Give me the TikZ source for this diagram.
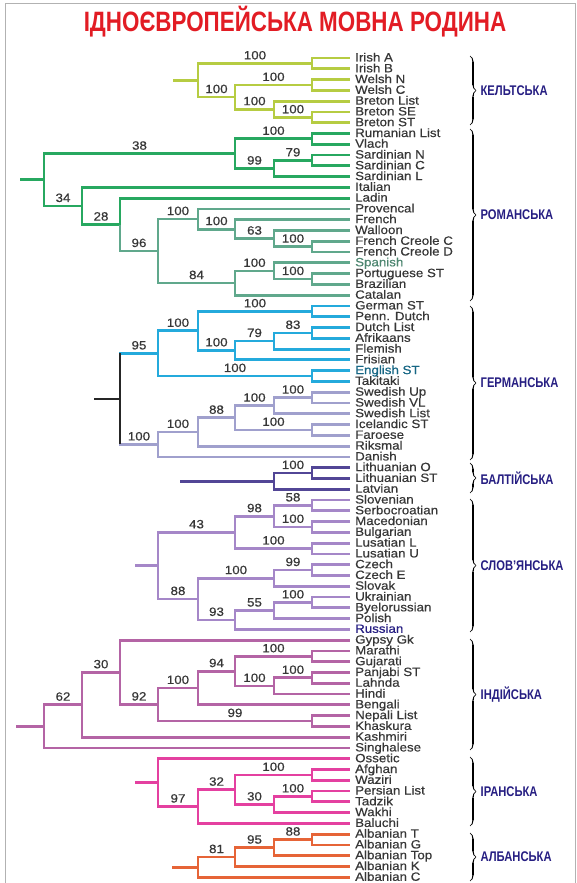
\documentclass[tikz,border=0pt]{standalone}
\usepackage{fontspec}
\setmainfont{Liberation Sans}
\newfontfamily\leaffont{Liberation Sans}[FakeStretch=1.11,FakeBold=0.6]
\newfontfamily\headfont{Liberation Sans}[FakeStretch=0.8]
\usetikzlibrary{calc,decorations.pathreplacing,calligraphy}

\definecolor{celtcol}{RGB}{182,204,66}
\definecolor{romcol}{RGB}{39,168,96}
\definecolor{romlowcol}{RGB}{96,168,140}
\definecolor{gercol}{RGB}{36,170,220}
\definecolor{scandcol}{RGB}{160,160,205}
\definecolor{baltcol}{RGB}{82,70,150}
\definecolor{slavcol}{RGB}{165,135,200}
\definecolor{indcol}{RGB}{180,100,165}
\definecolor{irancol}{RGB}{228,64,160}
\definecolor{albcol}{RGB}{230,100,55}
\definecolor{grpnavy}{RGB}{38,30,130}
\definecolor{headred}{RGB}{226,28,36}
\definecolor{leafgray}{RGB}{55,55,55}

\tikzset{
branch/.style={line width=2.8pt},
celtic/.style={branch, draw=celtcol},
romance/.style={branch, draw=romcol},
romlow/.style={branch, draw=romlowcol},
germanic/.style={branch, draw=gercol},
scandic/.style={branch, draw=scandcol},
gerroot/.style={branch, draw=black!85},
baltic/.style={branch, draw=baltcol},
slavic/.style={branch, draw=slavcol},
indic/.style={branch, draw=indcol},
iranic/.style={branch, draw=irancol},
albanic/.style={branch, draw=albcol},
leaf/.style={anchor=west, inner xsep=5pt, inner ysep=0pt, text height=7pt, text depth=0pt,
  text=leafgray, font=\leaffont\fontsize{12}{12}\selectfont},
support/.style={pos=0.75, above=2.5pt, inner sep=0pt, text=leafgray,
  font=\leaffont\fontsize{12}{12}\selectfont},
grpbrace/.style={decorate, decoration={calligraphic brace, amplitude=6pt}, line width=1.3pt, draw=black},
grplabel/.style={midway, anchor=west, xshift=10pt, inner sep=0pt, text=grpnavy,
  font=\headfont\bfseries\fontsize{14}{14}\selectfont},
headline/.style={text=headred, font=\headfont\bfseries\fontsize{28}{28}\selectfont},
}

\newcommand{\setjoint}[4]{\path let \p1=(#3), \p2=(#4) in (#2pt,{0.5*(\y1+\y2)}) coordinate (#1);}

\begin{document}
\begin{tikzpicture}[x=1pt,y=-1pt]
\useasboundingbox (0,0) rectangle (577,883);
\draw[black!30, line width=0.8pt] (5,883) -- (5,3) -- (575,3) -- (575,883);
\node[headline] (head) at (295,22) {ІДНОЄВРОПЕЙСЬКА МОВНА РОДИНА};

% celtic part
\node[leaf] (irA) at (350,58.0) {Irish A};
\node[leaf] (irB) at (350,68.8) {Irish B};
\node[leaf] (weN) at (350,79.6) {Welsh N};
\node[leaf] (weC) at (350,90.3) {Welsh C};
\node[leaf] (brL) at (350,101.1) {Breton List};
\node[leaf] (brSE) at (350,111.9) {Breton SE};
\node[leaf] (brST) at (350,122.7) {Breton ST};
\setjoint{irish}{312}{irA}{irB}
\setjoint{welsh}{312}{weN}{weC}
\setjoint{bret}{312}{brSE}{brST}
\setjoint{brit}{274}{brL}{bret}
\setjoint{brython}{235}{welsh}{brit}
\setjoint{celt}{198}{irish}{brython}
\coordinate (celtin) at ($(celt)+(-25,0)$);

% romance part
\node[leaf] (rum) at (350,133.5) {Rumanian List};
\node[leaf] (vla) at (350,144.2) {Vlach};
\node[leaf] (sarN) at (350,155.0) {Sardinian N};
\node[leaf] (sarC) at (350,165.8) {Sardinian C};
\node[leaf] (sarL) at (350,176.6) {Sardinian L};
\node[leaf] (ita) at (350,187.4) {Italian};
\node[leaf] (lad) at (350,198.1) {Ladin};
\node[leaf] (pro) at (350,208.9) {Provencal};
\node[leaf] (fre) at (350,219.7) {French};
\node[leaf] (wal) at (350,230.5) {Walloon};
\node[leaf] (fcC) at (350,241.3) {French Creole C};
\node[leaf] (fcD) at (350,252.0) {French Creole D};
\node[leaf, text=romlowcol!80!black] (spa) at (350,262.8) {Spanish};
\node[leaf] (por) at (350,273.6) {Portuguese ST};
\node[leaf] (bra) at (350,284.4) {Brazilian};
\node[leaf] (cat) at (350,295.2) {Catalan};
\setjoint{rumvla}{312}{rum}{vla}
\setjoint{sardnc}{312}{sarN}{sarC}
\setjoint{sard}{274}{sardnc}{sarL}
\setjoint{romeast}{235}{rumvla}{sard}
\setjoint{creole}{312}{fcC}{fcD}
\setjoint{wall}{274}{wal}{creole}
\setjoint{french}{235}{fre}{wall}
\setjoint{gallo}{198}{pro}{french}
\setjoint{portbr}{312}{por}{bra}
\setjoint{iber}{274}{spa}{portbr}
\setjoint{ibcat}{235}{iber}{cat}
\setjoint{romwest}{158}{gallo}{ibcat}
\setjoint{ladw}{120}{lad}{romwest}
\setjoint{italw}{82}{ita}{ladw}
\setjoint{roman}{44}{romeast}{italw}
\coordinate (romin) at ($(roman)+(-24,0)$);

% germanic part
\node[leaf] (gerST) at (350,305.9) {German ST};
\node[leaf] (penn) at (350,316.7) {Penn. Dutch};
\node[leaf] (dut) at (350,327.5) {Dutch List};
\node[leaf] (afr) at (350,338.3) {Afrikaans};
\node[leaf] (fle) at (350,349.1) {Flemish};
\node[leaf] (fri) at (350,359.8) {Frisian};
\node[leaf, text=gercol!60!black] (eng) at (350,370.6) {English ST};
\node[leaf] (tak) at (350,381.4) {Takitaki};
\node[leaf] (swUp) at (350,392.2) {Swedish Up};
\node[leaf] (swVL) at (350,403.0) {Swedish VL};
\node[leaf] (swL) at (350,413.7) {Swedish List};
\node[leaf] (ice) at (350,424.5) {Icelandic ST};
\node[leaf] (far) at (350,435.3) {Faroese};
\node[leaf] (rik) at (350,446.1) {Riksmal};
\node[leaf] (dan) at (350,456.9) {Danish};
\setjoint{gerpair}{312}{gerST}{penn}
\setjoint{dutafr}{312}{dut}{afr}
\setjoint{lowfr}{274}{dutafr}{fle}
\setjoint{frank}{235}{lowfr}{fri}
\setjoint{contw}{198}{gerpair}{frank}
\setjoint{engtak}{312}{eng}{tak}
\setjoint{westg}{158}{contw}{engtak}
\setjoint{swpair}{312}{swUp}{swVL}
\setjoint{swed}{274}{swpair}{swL}
\setjoint{icefar}{312}{ice}{far}
\setjoint{nordw}{235}{swed}{icefar}
\setjoint{nord}{198}{nordw}{rik}
\setjoint{scand}{158}{nord}{dan}
\setjoint{germ}{120}{westg}{scand}
\coordinate (germin) at ($(germ)+(-26,0)$);

% baltic part
\node[leaf] (lithO) at (350,467.6) {Lithuanian O};
\node[leaf] (lithST) at (350,478.4) {Lithuanian ST};
\node[leaf] (lat) at (350,489.2) {Latvian};
\setjoint{lith}{312}{lithO}{lithST}
\setjoint{balt}{274}{lith}{lat}
\coordinate (baltin) at ($(balt)+(-94,0)$);

% slavic part
\node[leaf] (slo) at (350,500.0) {Slovenian};
\node[leaf] (srb) at (350,510.8) {Serbocroatian};
\node[leaf] (mac) at (350,521.5) {Macedonian};
\node[leaf] (bul) at (350,532.3) {Bulgarian};
\node[leaf] (lusL) at (350,543.1) {Lusatian L};
\node[leaf] (lusU) at (350,553.9) {Lusatian U};
\node[leaf] (cze) at (350,564.7) {Czech};
\node[leaf] (czeE) at (350,575.4) {Czech E};
\node[leaf] (slk) at (350,586.2) {Slovak};
\node[leaf] (ukr) at (350,597.0) {Ukrainian};
\node[leaf] (bye) at (350,607.8) {Byelorussian};
\node[leaf] (pol) at (350,618.6) {Polish};
\node[leaf, text=grpnavy] (rus) at (350,629.3) {Russian};
\setjoint{slosrb}{312}{slo}{srb}
\setjoint{macbul}{312}{mac}{bul}
\setjoint{south}{274}{slosrb}{macbul}
\setjoint{lus}{312}{lusL}{lusU}
\setjoint{sowest}{235}{south}{lus}
\setjoint{czpair}{312}{cze}{czeE}
\setjoint{czsk}{274}{czpair}{slk}
\setjoint{ukrbye}{312}{ukr}{bye}
\setjoint{ukbyp}{274}{ukrbye}{pol}
\setjoint{eastsl}{235}{ukbyp}{rus}
\setjoint{wesl}{198}{czsk}{eastsl}
\setjoint{slav}{158}{sowest}{wesl}
\coordinate (slavin) at ($(slav)+(-23,0)$);

% indic part
\node[leaf] (gyp) at (350,640.1) {Gypsy Gk};
\node[leaf] (mar) at (350,650.9) {Marathi};
\node[leaf] (guj) at (350,661.7) {Gujarati};
\node[leaf] (pan) at (350,672.5) {Panjabi ST};
\node[leaf] (lah) at (350,683.2) {Lahnda};
\node[leaf] (hin) at (350,694.0) {Hindi};
\node[leaf] (ben) at (350,704.8) {Bengali};
\node[leaf] (nep) at (350,715.6) {Nepali List};
\node[leaf] (kha) at (350,726.4) {Khaskura};
\node[leaf] (kas) at (350,737.1) {Kashmiri};
\node[leaf] (sin) at (350,747.9) {Singhalese};
\setjoint{margu}{312}{mar}{guj}
\setjoint{panla}{312}{pan}{lah}
\setjoint{panhi}{274}{panla}{hin}
\setjoint{midind}{235}{margu}{panhi}
\setjoint{midben}{198}{midind}{ben}
\setjoint{nepkh}{312}{nep}{kha}
\setjoint{northi}{158}{midben}{nepkh}
\setjoint{gypind}{120}{gyp}{northi}
\setjoint{kasind}{82}{gypind}{kas}
\setjoint{indo}{44}{kasind}{sin}
\coordinate (indoin) at ($(indo)+(-28,0)$);

% iranian part
\node[leaf] (oss) at (350,758.7) {Ossetic};
\node[leaf] (afg) at (350,769.5) {Afghan};
\node[leaf] (waz) at (350,780.3) {Waziri};
\node[leaf] (per) at (350,791.0) {Persian List};
\node[leaf] (tad) at (350,801.8) {Tadzik};
\node[leaf] (wak) at (350,812.6) {Wakhi};
\node[leaf] (bal) at (350,823.4) {Baluchi};
\setjoint{afwaz}{312}{afg}{waz}
\setjoint{pertad}{312}{per}{tad}
\setjoint{perwak}{274}{pertad}{wak}
\setjoint{iracore}{235}{afwaz}{perwak}
\setjoint{irabal}{198}{iracore}{bal}
\setjoint{iran}{158}{oss}{irabal}
\coordinate (iranin) at ($(iran)+(-23,0)$);

% albanian part
\node[leaf] (albT) at (350,834.2) {Albanian T};
\node[leaf] (albG) at (350,844.9) {Albanian G};
\node[leaf] (albTop) at (350,855.7) {Albanian Top};
\node[leaf] (albK) at (350,866.5) {Albanian K};
\node[leaf] (albC) at (350,877.3) {Albanian C};
\setjoint{albtg}{312}{albT}{albG}
\setjoint{albtop}{274}{albtg}{albTop}
\setjoint{albk}{235}{albtop}{albK}
\setjoint{alban}{198}{albk}{albC}
\coordinate (albanin) at ($(alban)+(-26,0)$);

% celtic edges
\draw[celtic] (celtin) -- (celt);
\draw[celtic] (celt) |- node[support] {100} (irish) (celt) |- node[support] {100} (brython);
\draw[celtic] (irish) |- (irA.west) (irish) |- (irB.west);
\draw[celtic] (brython) |- node[support] {100} (welsh) (brython) |- node[support] {100} (brit);
\draw[celtic] (welsh) |- (weN.west) (welsh) |- (weC.west);
\draw[celtic] (brit) |- (brL.west) (brit) |- node[support] {100} (bret);
\draw[celtic] (bret) |- (brSE.west) (bret) |- (brST.west);

% romance edges
\draw[romance] (romin) -- (roman);
\draw[romance] (roman) |- node[support] {38} (romeast) (roman) |- node[support] {34} (italw);
\draw[romance] (romeast) |- node[support] {100} (rumvla) (romeast) |- node[support] {99} (sard);
\draw[romance] (rumvla) |- (rum.west) (rumvla) |- (vla.west);
\draw[romance] (sard) |- node[support] {79} (sardnc) (sard) |- (sarL.west);
\draw[romance] (sardnc) |- (sarN.west) (sardnc) |- (sarC.west);
\draw[romance] (italw) |- (ita.west) (italw) |- node[support] {28} (ladw);
\draw[romance] (ladw) |- (lad.west);
\draw[romlow] (ladw) |- node[support] {96} (romwest);
\draw[romlow] (romwest) |- node[support] {100} (gallo) (romwest) |- node[support] {84} (ibcat);
\draw[romlow] (gallo) |- (pro.west) (gallo) |- node[support] {100} (french);
\draw[romlow] (french) |- (fre.west) (french) |- node[support] {63} (wall);
\draw[romlow] (wall) |- (wal.west) (wall) |- node[support] {100} (creole);
\draw[romlow] (creole) |- (fcC.west) (creole) |- (fcD.west);
\draw[romlow] (ibcat) |- node[support] {100} (iber) (ibcat) |- (cat.west);
\draw[romlow] (iber) |- (spa.west) (iber) |- node[support] {100} (portbr);
\draw[romlow] (portbr) |- (por.west) (portbr) |- (bra.west);

% germanic edges
\draw[germanic] (germ) |- node[support] {95} (westg);
\draw[scandic] (germ) |- node[support] {100} (scand);
\draw[gerroot] (germin) -- (germ) (germ |- westg) -- (germ |- scand);
\draw[germanic] (westg) |- node[support] {100} (contw) (westg) |- node[support] {100} (engtak);
\draw[germanic] (contw) |- node[support] {100} (gerpair) (contw) |- node[support] {100} (frank);
\draw[germanic] (gerpair) |- (gerST.west) (gerpair) |- (penn.west);
\draw[germanic] (frank) |- node[support] {79} (lowfr) (frank) |- (fri.west);
\draw[germanic] (lowfr) |- node[support] {83} (dutafr) (lowfr) |- (fle.west);
\draw[germanic] (dutafr) |- (dut.west) (dutafr) |- (afr.west);
\draw[germanic] (engtak) |- (eng.west) (engtak) |- (tak.west);
\draw[scandic] (scand) |- node[support] {100} (nord) (scand) |- (dan.west);
\draw[scandic] (nord) |- node[support] {88} (nordw) (nord) |- (rik.west);
\draw[scandic] (nordw) |- node[support] {100} (swed) (nordw) |- node[support] {100} (icefar);
\draw[scandic] (swed) |- node[support] {100} (swpair) (swed) |- (swL.west);
\draw[scandic] (swpair) |- (swUp.west) (swpair) |- (swVL.west);
\draw[scandic] (icefar) |- (ice.west) (icefar) |- (far.west);

% baltic edges
\draw[baltic] (baltin) -- (balt);
\draw[baltic] (balt) |- node[support] {100} (lith) (balt) |- (lat.west);
\draw[baltic] (lith) |- (lithO.west) (lith) |- (lithST.west);

% slavic edges
\draw[slavic] (slavin) -- (slav);
\draw[slavic] (slav) |- node[support] {43} (sowest) (slav) |- node[support] {88} (wesl);
\draw[slavic] (sowest) |- node[support] {98} (south) (sowest) |- node[support] {100} (lus);
\draw[slavic] (south) |- node[support] {58} (slosrb) (south) |- node[support] {100} (macbul);
\draw[slavic] (slosrb) |- (slo.west) (slosrb) |- (srb.west);
\draw[slavic] (macbul) |- (mac.west) (macbul) |- (bul.west);
\draw[slavic] (lus) |- (lusL.west) (lus) |- (lusU.west);
\draw[slavic] (wesl) |- node[support] {100} (czsk) (wesl) |- node[support] {93} (eastsl);
\draw[slavic] (czsk) |- node[support] {99} (czpair) (czsk) |- (slk.west);
\draw[slavic] (czpair) |- (cze.west) (czpair) |- (czeE.west);
\draw[slavic] (eastsl) |- node[support] {55} (ukbyp) (eastsl) |- (rus.west);
\draw[slavic] (ukbyp) |- node[support] {100} (ukrbye) (ukbyp) |- (pol.west);
\draw[slavic] (ukrbye) |- (ukr.west) (ukrbye) |- (bye.west);

% indic edges
\draw[indic] (indoin) -- (indo);
\draw[indic] (indo) |- node[support] {62} (kasind) (indo) |- (sin.west);
\draw[indic] (kasind) |- node[support] {30} (gypind) (kasind) |- (kas.west);
\draw[indic] (gypind) |- (gyp.west) (gypind) |- node[support] {92} (northi);
\draw[indic] (northi) |- node[support] {100} (midben) (northi) |- node[support] {99} (nepkh);
\draw[indic] (midben) |- node[support] {94} (midind) (midben) |- (ben.west);
\draw[indic] (midind) |- node[support] {100} (margu) (midind) |- node[support] {100} (panhi);
\draw[indic] (margu) |- (mar.west) (margu) |- (guj.west);
\draw[indic] (panhi) |- node[support] {100} (panla) (panhi) |- (hin.west);
\draw[indic] (panla) |- (pan.west) (panla) |- (lah.west);
\draw[indic] (nepkh) |- (nep.west) (nepkh) |- (kha.west);

% iranian edges
\draw[iranic] (iranin) -- (iran);
\draw[iranic] (iran) |- (oss.west) (iran) |- node[support] {97} (irabal);
\draw[iranic] (irabal) |- node[support] {32} (iracore) (irabal) |- (bal.west);
\draw[iranic] (iracore) |- node[support] {100} (afwaz) (iracore) |- node[support] {30} (perwak);
\draw[iranic] (afwaz) |- (afg.west) (afwaz) |- (waz.west);
\draw[iranic] (perwak) |- node[support] {100} (pertad) (perwak) |- (wak.west);
\draw[iranic] (pertad) |- (per.west) (pertad) |- (tad.west);

% albanian edges
\draw[albanic] (albanin) -- (alban);
\draw[albanic] (alban) |- node[support] {81} (albk) (alban) |- (albC.west);
\draw[albanic] (albk) |- node[support] {95} (albtop) (albk) |- (albK.west);
\draw[albanic] (albtop) |- node[support] {88} (albtg) (albtop) |- (albTop.west);
\draw[albanic] (albtg) |- (albT.west) (albtg) |- (albG.west);

% groups
\draw[grpbrace] (470,56) -- (470,125) node[grplabel] (celtlbl) {КЕЛЬТСЬКА};
\draw[grpbrace] (470,129) -- (470,301) node[grplabel] (romlbl) {РОМАНСЬКА};
\draw[grpbrace] (470,306) -- (470,460) node[grplabel] (gerlbl) {ГЕРМАНСЬКА};
\draw[grpbrace] (470,463) -- (470,493) node[grplabel] (baltlbl) {БАЛТІЙСЬКА};
\draw[grpbrace] (470,499) -- (470,632) node[grplabel] (slavlbl) {СЛОВ’ЯНСЬКА};
\draw[grpbrace] (470,639) -- (470,750) node[grplabel] (indlbl) {ІНДІЙСЬКА};
\draw[grpbrace] (470,757) -- (470,826) node[grplabel] (iranlbl) {ІРАНСЬКА};
\draw[grpbrace] (470,833) -- (470,881) node[grplabel] (alblbl) {АЛБАНСЬКА};
\end{tikzpicture}
\end{document}
